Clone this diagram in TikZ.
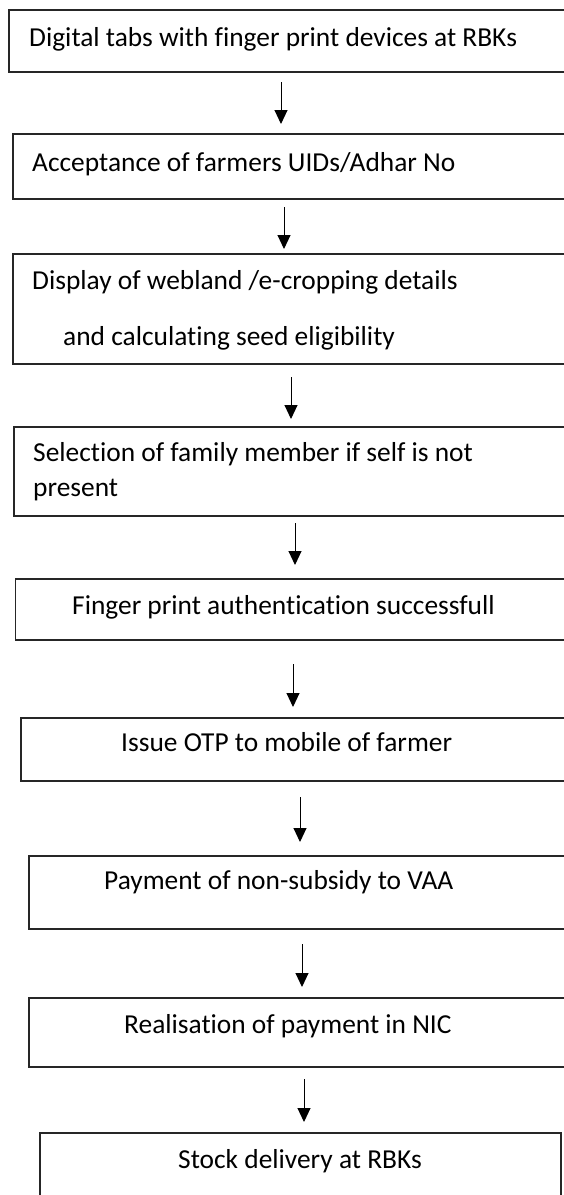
\documentclass[tikz,border=0pt]{standalone}
\usepackage{fontspec}
\setmainfont[Ligatures=NoCommon]{Carlito}
\usetikzlibrary{arrows.meta}
\begin{document}
\begin{tikzpicture}[x=1pt,y=-1pt,
  box/.style={draw=black!85, line width=1.2pt, rectangle, anchor=north west, inner sep=0pt, outer sep=0pt},
  lbl/.style={anchor=base west, inner sep=0pt, font=\fontsize{27.4}{33}\selectfont},
  arr/.style={draw=black, line width=1pt, -{Triangle[length=14pt,width=13pt]}}]
\useasboundingbox (0,0) rectangle (564,1195);
\clip (0,0) rectangle (564,1195);
% boxes
\node[box, minimum width=570pt, minimum height=62pt] (b1) at (9,10) {};
\node[box, minimum width=570pt, minimum height=65pt] (b2) at (13,134) {};
\node[box, minimum width=570pt, minimum height=110pt] (b3) at (13,254) {};
\node[box, minimum width=570pt, minimum height=89pt] (b4) at (14,427) {};
\node[box, minimum width=570pt, minimum height=61pt] (b5) at (15.5,579) {};
\node[box, minimum width=570pt, minimum height=63pt] (b6) at (21,718) {};
\node[box, minimum width=570pt, minimum height=73pt] (b7) at (29,856) {};
\node[box, minimum width=570pt, minimum height=69pt] (b8) at (29,998) {};
\node[box, minimum width=521pt, minimum height=80pt] (b9) at (40,1133) {};
% labels
\node[lbl] (t1) at (29,46) {Digital tabs with finger print devices at RBKs};
\node[lbl] (t2) at (32,171) {Acceptance of farmers UIDs/Adhar No};
\node[lbl] (t3a) at (32,289) {Display of webland /e-cropping details};
\node[lbl] (t3b) at (63,345) {and calculating seed eligibility};
\node[lbl] (t4a) at (33,461) {Selection of family member if self is not};
\node[lbl] (t4b) at (33,496) {present};
\node[lbl] (t5) at (72,614) {Finger print authentication successfull};
\node[lbl] (t6) at (121,751) {Issue OTP to mobile of farmer};
\node[lbl] (t7) at (104,889) {Payment of non-subsidy to VAA};
\node[lbl] (t8) at (124,1033) {Realisation of payment in NIC};
\node[lbl] (t9) at (178,1168) {Stock delivery at RBKs};
% arrow end points
\coordinate (a1s) at (281,82);   \coordinate (a1e) at (281,124);
\coordinate (a2s) at (284,207);  \coordinate (a2e) at (284,249);
\coordinate (a3s) at (291,377);  \coordinate (a3e) at (291,419);
\coordinate (a4s) at (295,523);  \coordinate (a4e) at (295,565);
\coordinate (a5s) at (293,664);  \coordinate (a5e) at (293,707);
\coordinate (a6s) at (300,797);  \coordinate (a6e) at (300,842);
\coordinate (a7s) at (302,944);  \coordinate (a7e) at (302,987);
\coordinate (a8s) at (304,1079); \coordinate (a8e) at (304,1122);
\draw[arr] (a1s) -- (a1e);
\draw[arr] (a2s) -- (a2e);
\draw[arr] (a3s) -- (a3e);
\draw[arr] (a4s) -- (a4e);
\draw[arr] (a5s) -- (a5e);
\draw[arr] (a6s) -- (a6e);
\draw[arr] (a7s) -- (a7e);
\draw[arr] (a8s) -- (a8e);
\end{tikzpicture}
\end{document}
